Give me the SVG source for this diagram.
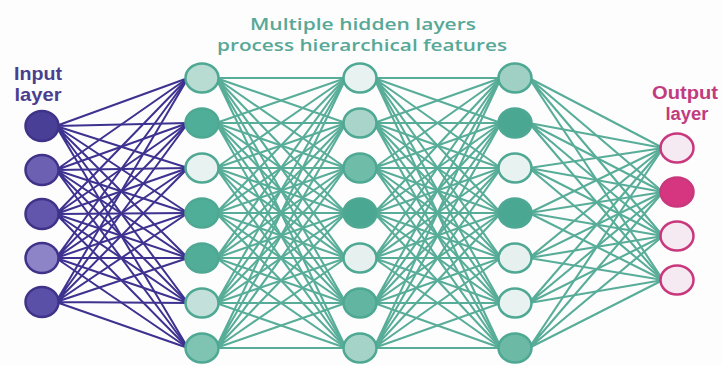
<svg xmlns="http://www.w3.org/2000/svg" width="722" height="365" viewBox="0 0 722 365">
<style>
.bg{fill:#fdfdfd}
.ein{fill:none;stroke:#3d3290;stroke-width:2}
.eh{fill:none;stroke:#58ad99;stroke-width:2.1}
.nin{stroke:#3e3389;stroke-width:2.5}
.nh{stroke:#4ea893;stroke-width:2.5}
.nout{stroke:#c9387d;stroke-width:2.5}
.lbl{font-family:"Liberation Sans",Arial,sans-serif;font-weight:bold;text-anchor:middle}
.ttl{font-family:"Open Sans","Liberation Sans",sans-serif;font-weight:600;font-size:16px;fill:#58a897;text-anchor:middle}
</style>
<rect class="bg" x="0" y="0" width="722" height="365"/>
<g id="connectors">
<g id="in-h1" class="ein">
<path d="M56 126L188 78M56 126L188 123M56 126L188 168M56 126L188 213M56 126L188 258M56 126L188 303M56 126L188 348"/>
<path d="M56 170L188 78M56 170L188 123M56 170L188 168M56 170L188 213M56 170L188 258M56 170L188 303M56 170L188 348"/>
<path d="M56 214L188 78M56 214L188 123M56 214L188 168M56 214L188 213M56 214L188 258M56 214L188 303M56 214L188 348"/>
<path d="M56 258L188 78M56 258L188 123M56 258L188 168M56 258L188 213M56 258L188 258M56 258L188 303M56 258L188 348"/>
<path d="M56 302L188 78M56 302L188 123M56 302L188 168M56 302L188 213M56 302L188 258M56 302L188 303M56 302L188 348"/>
</g>
<g id="h1-h2" class="eh">
<path d="M216 78L346 78M216 78L346 123M216 78L346 168M216 78L346 213M216 78L346 258M216 78L346 303M216 78L346 348"/>
<path d="M216 123L346 78M216 123L346 123M216 123L346 168M216 123L346 213M216 123L346 258M216 123L346 303M216 123L346 348"/>
<path d="M216 168L346 78M216 168L346 123M216 168L346 168M216 168L346 213M216 168L346 258M216 168L346 303M216 168L346 348"/>
<path d="M216 213L346 78M216 213L346 123M216 213L346 168M216 213L346 213M216 213L346 258M216 213L346 303M216 213L346 348"/>
<path d="M216 258L346 78M216 258L346 123M216 258L346 168M216 258L346 213M216 258L346 258M216 258L346 303M216 258L346 348"/>
<path d="M216 303L346 78M216 303L346 123M216 303L346 168M216 303L346 213M216 303L346 258M216 303L346 303M216 303L346 348"/>
<path d="M216 348L346 78M216 348L346 123M216 348L346 168M216 348L346 213M216 348L346 258M216 348L346 303M216 348L346 348"/>
</g>
<g id="h2-h3" class="eh">
<path d="M374 78L501 78M374 78L501 123M374 78L501 168M374 78L501 213M374 78L501 258M374 78L501 303M374 78L501 348"/>
<path d="M374 123L501 78M374 123L501 123M374 123L501 168M374 123L501 213M374 123L501 258M374 123L501 303M374 123L501 348"/>
<path d="M374 168L501 78M374 168L501 123M374 168L501 168M374 168L501 213M374 168L501 258M374 168L501 303M374 168L501 348"/>
<path d="M374 213L501 78M374 213L501 123M374 213L501 168M374 213L501 213M374 213L501 258M374 213L501 303M374 213L501 348"/>
<path d="M374 258L501 78M374 258L501 123M374 258L501 168M374 258L501 213M374 258L501 258M374 258L501 303M374 258L501 348"/>
<path d="M374 303L501 78M374 303L501 123M374 303L501 168M374 303L501 213M374 303L501 258M374 303L501 303M374 303L501 348"/>
<path d="M374 348L501 78M374 348L501 123M374 348L501 168M374 348L501 213M374 348L501 258M374 348L501 303M374 348L501 348"/>
</g>
<g id="h3-out" class="eh">
<path d="M529 78L663 148M529 78L663 192M529 78L663 236M529 78L663 280"/>
<path d="M529 123L663 148M529 123L663 192M529 123L663 236M529 123L663 280"/>
<path d="M529 168L663 148M529 168L663 192M529 168L663 236M529 168L663 280"/>
<path d="M529 213L663 148M529 213L663 192M529 213L663 236M529 213L663 280"/>
<path d="M529 258L663 148M529 258L663 192M529 258L663 236M529 258L663 280"/>
<path d="M529 303L663 148M529 303L663 192M529 303L663 236M529 303L663 280"/>
<path d="M529 348L663 148M529 348L663 192M529 348L663 236M529 348L663 280"/>
</g>
</g>
<g id="labels">
<g id="label-input" class="lbl" fill="#4a3f8f" font-size="19">
<text x="38" y="80" textLength="48" lengthAdjust="spacingAndGlyphs">Input</text>
<text x="38" y="101" textLength="47" lengthAdjust="spacingAndGlyphs">layer</text>
</g>
<g id="label-hidden" class="ttl">
<text x="363" y="30" textLength="226" lengthAdjust="spacingAndGlyphs">Multiple hidden layers</text>
<text x="362" y="51" textLength="290" lengthAdjust="spacingAndGlyphs">process hierarchical features</text>
</g>
<g id="label-output" class="lbl" fill="#c13b7e" font-size="18">
<text x="685" y="99" textLength="66" lengthAdjust="spacingAndGlyphs">Output</text>
<text x="687" y="120" textLength="43" lengthAdjust="spacingAndGlyphs">layer</text>
</g>
</g>
<g id="input-layer">
<g id="in1"><ellipse class="nin" cx="42" cy="126" rx="16.5" ry="15" fill="#4a3f97"/></g>
<g id="in2"><ellipse class="nin" cx="42" cy="170" rx="16.5" ry="15" fill="#6b60b2"/></g>
<g id="in3"><ellipse class="nin" cx="42" cy="214" rx="16.5" ry="15" fill="#6156ab"/></g>
<g id="in4"><ellipse class="nin" cx="42" cy="258" rx="16.5" ry="15" fill="#8c84c6"/></g>
<g id="in5"><ellipse class="nin" cx="42" cy="302" rx="16.5" ry="15" fill="#5b50a8"/></g>
</g>
<g id="hidden-1">
<g id="h1n1"><ellipse class="nh" cx="202" cy="78" rx="16.5" ry="14.5" fill="#b8dcd2"/></g>
<g id="h1n2"><ellipse class="nh" cx="202" cy="123" rx="16.5" ry="14.5" fill="#4fae97"/></g>
<g id="h1n3"><ellipse class="nh" cx="202" cy="168" rx="16.5" ry="14.5" fill="#e8f2f0"/></g>
<g id="h1n4"><ellipse class="nh" cx="202" cy="213" rx="16.5" ry="14.5" fill="#4fae97"/></g>
<g id="h1n5"><ellipse class="nh" cx="202" cy="258" rx="16.5" ry="14.5" fill="#52ad98"/></g>
<g id="h1n6"><ellipse class="nh" cx="202" cy="303" rx="16.5" ry="14.5" fill="#c4e0da"/></g>
<g id="h1n7"><ellipse class="nh" cx="202" cy="348" rx="16.5" ry="14.5" fill="#7fc4b3"/></g>
</g>
<g id="hidden-2">
<g id="h2n1"><ellipse class="nh" cx="360" cy="78" rx="16.5" ry="14.5" fill="#e8f3f1"/></g>
<g id="h2n2"><ellipse class="nh" cx="360" cy="123" rx="16.5" ry="14.5" fill="#a9d4c9"/></g>
<g id="h2n3"><ellipse class="nh" cx="360" cy="168" rx="16.5" ry="14.5" fill="#6fbca8"/></g>
<g id="h2n4"><ellipse class="nh" cx="360" cy="213" rx="16.5" ry="14.5" fill="#4aa892"/></g>
<g id="h2n5"><ellipse class="nh" cx="360" cy="258" rx="16.5" ry="14.5" fill="#e6f0ee"/></g>
<g id="h2n6"><ellipse class="nh" cx="360" cy="303" rx="16.5" ry="14.5" fill="#62b5a1"/></g>
<g id="h2n7"><ellipse class="nh" cx="360" cy="348" rx="16.5" ry="14.5" fill="#a6d3c8"/></g>
</g>
<g id="hidden-3">
<g id="h3n1"><ellipse class="nh" cx="515" cy="78" rx="16.5" ry="14.5" fill="#9fd0c3"/></g>
<g id="h3n2"><ellipse class="nh" cx="515" cy="123" rx="16.5" ry="14.5" fill="#4aa892"/></g>
<g id="h3n3"><ellipse class="nh" cx="515" cy="168" rx="16.5" ry="14.5" fill="#e8f2f0"/></g>
<g id="h3n4"><ellipse class="nh" cx="515" cy="213" rx="16.5" ry="14.5" fill="#4aa892"/></g>
<g id="h3n5"><ellipse class="nh" cx="515" cy="258" rx="16.5" ry="14.5" fill="#e6f0ee"/></g>
<g id="h3n6"><ellipse class="nh" cx="515" cy="303" rx="16.5" ry="14.5" fill="#e8f2f0"/></g>
<g id="h3n7"><ellipse class="nh" cx="515" cy="348" rx="16.5" ry="14.5" fill="#6cb9a6"/></g>
</g>
<g id="output-layer">
<g id="out1"><ellipse class="nout" cx="677" cy="148" rx="16.5" ry="14.5" fill="#f6eaf2"/></g>
<g id="out2"><ellipse class="nout" cx="677" cy="192" rx="16.5" ry="14.5" fill="#d6357f"/></g>
<g id="out3"><ellipse class="nout" cx="677" cy="236" rx="16.5" ry="14.5" fill="#f6eaf2"/></g>
<g id="out4"><ellipse class="nout" cx="677" cy="280" rx="16.5" ry="14.5" fill="#f6eaf2"/></g>
</g>
</svg>
